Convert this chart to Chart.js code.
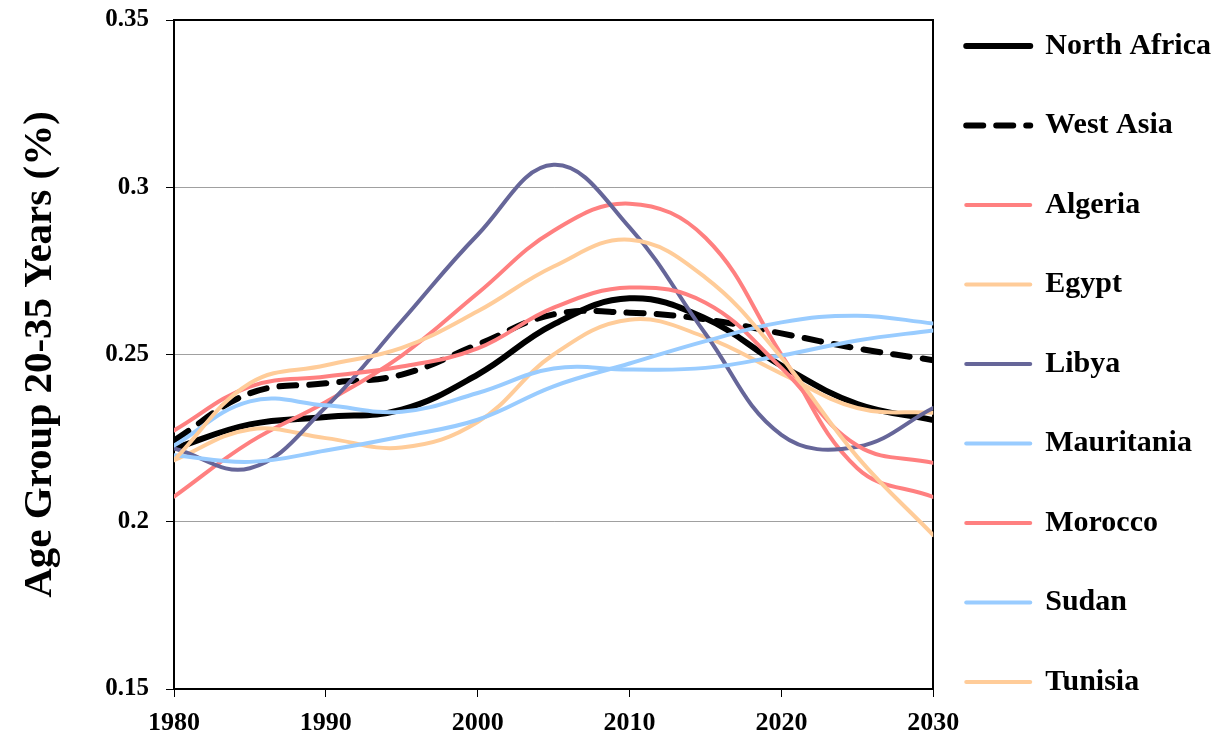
<!DOCTYPE html>
<html>
<head>
<meta charset="utf-8">
<script src="https://cdn.jsdelivr.net/npm/chart.js@4"></script>
<style>
  html, body { margin: 0; padding: 0; background: #ffffff; }
  canvas { display: block; }
</style>
</head>
<body>
<canvas id="c" width="1221" height="737"></canvas>
<script>
// ---- data ----
const years = [1980, 1985, 1990, 1995, 2000, 2005, 2010, 2015, 2020, 2025, 2030];
const xTicks = [1980, 1990, 2000, 2010, 2020, 2030];
const yTicks = [0.15, 0.2, 0.25, 0.3, 0.35];

const northAfrica = [0.2219, 0.2291, 0.2313, 0.2335, 0.2440, 0.2590, 0.2668, 0.2608, 0.2467, 0.2352, 0.2304];
const westAsia    = [0.2243, 0.2384, 0.2414, 0.2440, 0.2530, 0.2620, 0.2625, 0.2605, 0.2563, 0.2518, 0.2483];
const algeria     = [0.2075, 0.2238, 0.2358, 0.2497, 0.2683, 0.2870, 0.2951, 0.2849, 0.2500, 0.2160, 0.2074];
const egypt       = [0.2184, 0.2276, 0.2250, 0.2222, 0.2298, 0.2500, 0.2604, 0.2552, 0.2443, 0.2340, 0.2326];
const libya       = [0.2219, 0.2160, 0.2343, 0.2600, 0.2858, 0.3067, 0.2880, 0.2562, 0.2260, 0.2224, 0.2340];
const mauritania  = [0.2228, 0.2360, 0.2348, 0.2329, 0.2385, 0.2458, 0.2455, 0.2460, 0.2497, 0.2542, 0.2572];
const morocco     = [0.2273, 0.2404, 0.2434, 0.2464, 0.2518, 0.2640, 0.2700, 0.2655, 0.2460, 0.2228, 0.2176];
const sudan       = [0.2199, 0.2179, 0.2213, 0.2255, 0.2305, 0.2405, 0.2473, 0.2540, 0.2596, 0.2616, 0.2593];
const tunisia     = [0.2184, 0.2414, 0.2468, 0.2520, 0.2629, 0.2763, 0.2843, 0.2730, 0.2491, 0.2194, 0.1960];

const seriesNames = ['North Africa', 'West Asia', 'Algeria', 'Egypt', 'Libya', 'Mauritania', 'Morocco', 'Sudan', 'Tunisia'];
const seriesValues = [northAfrica, westAsia, algeria, egypt, libya, mauritania, morocco, sudan, tunisia];
const seriesColors = ['#000000', '#000000', '#FF8080', '#FFCC99', '#666699', '#99CCFF', '#FF8080', '#99CCFF', '#FFCC99'];

// ---- styling ----
const FONT = 'Liberation Serif';
const lastIndex = seriesNames.length - 1;

const datasets = seriesNames.map((name, i) => ({
  label: name,
  data: years.map((yr, k) => ({ x: yr, y: seriesValues[i][k] })),
  borderColor: seriesColors[i],
  backgroundColor: seriesColors[i],
  borderWidth: i < 2 ? 6 : 4,
  borderDash: i === 1 ? [17, 13] : [],
  borderCapStyle: 'round',
  borderJoinStyle: 'round',
  pointRadius: 0,
  pointHoverRadius: 0,
  tension: 0.4,
  fill: false,
  order: seriesNames.length - i
}));

new Chart(document.getElementById('c'), {
  type: 'line',
  data: { datasets },
  options: {
    responsive: false,
    animation: false,
    devicePixelRatio: 1,
    layout: { padding: { top: 0, right: 0, bottom: 0, left: 0 } },
    plugins: {
      tooltip: { enabled: false },
      legend: {
        display: true,
        position: 'right',
        align: 'start',
        maxWidth: 400,
        labels: {
          usePointStyle: true,
          pointStyle: 'line',
          pointStyleWidth: 64,
          boxWidth: 64,
          padding: 31,
          color: '#000000',
          font: { family: FONT, size: 30, weight: 'bold', lineHeight: 48.5 / 30 },
          sort: (a, b) => a.datasetIndex - b.datasetIndex,
          generateLabels: (chart) => {
            const items = Chart.defaults.plugins.legend.labels.generateLabels(chart);
            items.forEach(it => {
              const ds = chart.data.datasets[it.datasetIndex];
              it.lineDash = ds.borderDash;
              it.lineCap = 'round';
              it.lineWidth = ds.borderWidth;
              it.strokeStyle = ds.borderColor;
              if (it.datasetIndex !== lastIndex) it.text = [it.text];
            });
            return items;
          }
        }
      }
    },
    scales: {
      x: {
        type: 'linear',
        position: 'bottom',
        min: 1980,
        max: 2030,
        afterBuildTicks: (s) => { s.ticks = xTicks.map(v => ({ value: v })); },
        afterFit: (s) => { s.height = 48; },
        ticks: {
          callback: (v) => String(v),
          color: '#000000',
          padding: 11,
          maxRotation: 0,
          font: { family: FONT, size: 26, weight: 'bold' }
        },
        grid: { drawOnChartArea: false, drawTicks: true, tickLength: 8, tickColor: '#000000', tickWidth: 1 },
        border: { display: true, color: '#000000', width: 2 }
      },
      x2: {
        type: 'linear',
        position: 'top',
        min: 1980,
        max: 2030,
        afterFit: (s) => { s.height = 20; },
        ticks: { display: false },
        grid: { display: false, drawTicks: false },
        border: { display: true, color: '#000000', width: 2 }
      },
      y: {
        type: 'linear',
        position: 'left',
        min: 0.15,
        max: 0.35,
        afterBuildTicks: (s) => { s.ticks = yTicks.map(v => ({ value: v })); },
        afterFit: (s) => { s.width = 174; s.paddingTop = 15; s.paddingBottom = 15; },
        ticks: {
          callback: (v) => String(v),
          color: '#000000',
          padding: 17,
          font: { family: FONT, size: 25, weight: 'bold' }
        },
        grid: { color: '#a0a0a0', lineWidth: 1, drawTicks: true, tickLength: 8, tickColor: '#000000', tickWidth: 1 },
        border: { display: true, color: '#000000', width: 2 },
        title: {
          display: true,
          text: 'Age Group 20-35 Years (%)',
          color: '#000000',
          padding: { top: 16, bottom: 0 },
          font: { family: FONT, size: 41, weight: 'bold' }
        }
      },
      y2: {
        type: 'linear',
        position: 'right',
        min: 0.15,
        max: 0.35,
        afterFit: (s) => { s.width = 2; },
        ticks: { display: false },
        grid: { display: false, drawTicks: false },
        border: { display: true, color: '#000000', width: 2 }
      }
    }
  }
});
</script>
</body>
</html>
